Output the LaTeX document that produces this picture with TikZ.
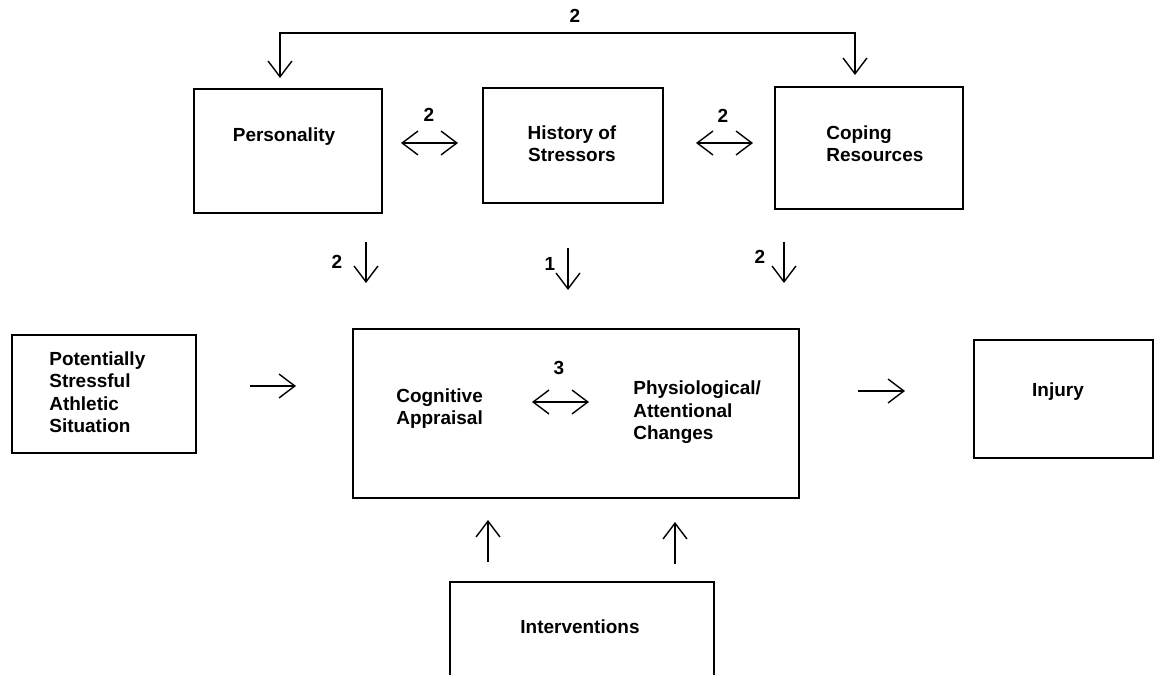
\documentclass[tikz,border=0pt]{standalone}
\usepackage{fontspec}
\setmainfont{Liberation Sans}
\usetikzlibrary{arrows.meta}
\begin{document}
\begin{tikzpicture}[x=0.02cm,y=-0.02cm,
  box/.style={draw, line width=0.9pt, inner sep=0pt, anchor=north west},
  lbl/.style={font=\fontsize{10.8}{12.9}\selectfont\bfseries, inner sep=0pt},
  num/.style={font=\fontsize{10.8}{12.9}\selectfont\bfseries, inner sep=0pt, anchor=base},
  barb/.tip={Straight Barb[length=9pt,width=13.6pt]},
  conn/.style={line width=0.8pt, -barb},
  twoway/.style={line width=0.8pt, barb-barb}]
\useasboundingbox (0,0) rectangle (1154,675);
\clip (0,0) rectangle (1154,675);

% boxes
\node[box, minimum width={188*0.02cm}, minimum height={124*0.02cm}] (pers) at (193,88) {};
\node[box, minimum width={180*0.02cm}, minimum height={115*0.02cm}] (hist) at (482,87) {};
\node[box, minimum width={188*0.02cm}, minimum height={122*0.02cm}] (cope) at (774,86) {};
\node[box, minimum width={184*0.02cm}, minimum height={118*0.02cm}] (sit) at (11,334) {};
\node[box, minimum width={446*0.02cm}, minimum height={169*0.02cm}] (core) at (352,328) {};
\node[box, minimum width={179*0.02cm}, minimum height={118*0.02cm}] (inj) at (973,339) {};
\node[box, minimum width={264*0.02cm}, minimum height={140*0.02cm}] (intv) at (449,581) {};

% box texts (multi-line texts sit on the baseline of their last line)
\node[lbl, anchor=base] (persT) at (284,142) {Personality};
\node[lbl, anchor=base, align=center] (histT) at (572,162) {History of\\Stressors};
\node[lbl, anchor=base west, align=left] (copeT) at (826,162) {Coping\\Resources};
\node[lbl, anchor=base west, align=left] (sitT) at (49,433) {Potentially\\Stressful\\Athletic\\Situation};
\node[lbl, anchor=base west, align=left] (cogT) at (396,425) {Cognitive\\Appraisal};
\node[lbl, anchor=base west, align=left] (physT) at (633,440) {Physiological/\\Attentional\\Changes};
\node[lbl, anchor=base] (injT) at (1058,397) {Injury};
\node[lbl, anchor=base] (intvT) at (580,634) {Interventions};

% arrow end points
\coordinate (pIn) at (280,78);
\coordinate (tl) at (280,33);
\coordinate (tr) at (855,33);
\coordinate (cIn) at (855,75);
\coordinate (ph1) at (401,143);
\coordinate (ph2) at (458,143);
\coordinate (hc1) at (696,143);
\coordinate (hc2) at (753,143);
\coordinate (d1a) at (366,242);
\coordinate (d1b) at (366,283);
\coordinate (d2a) at (568,248);
\coordinate (d2b) at (568,290);
\coordinate (d3a) at (784,242);
\coordinate (d3b) at (784,283);
\coordinate (r1a) at (250,386);
\coordinate (r1b) at (296,386);
\coordinate (r2a) at (858,391);
\coordinate (r2b) at (905,391);
\coordinate (ca) at (532,402);
\coordinate (cb) at (589,402);
\coordinate (u1a) at (488,562);
\coordinate (u1b) at (488,520);
\coordinate (u2a) at (675,564);
\coordinate (u2b) at (675,522);

% connectors
\draw[twoway] (pIn) -- (tl) -- (tr) -- (cIn);
\draw[twoway] (ph1) -- (ph2);
\draw[twoway] (hc1) -- (hc2);
\draw[conn] (d1a) -- (d1b);
\draw[conn] (d2a) -- (d2b);
\draw[conn] (d3a) -- (d3b);
\draw[conn] (r1a) -- (r1b);
\draw[conn] (r2a) -- (r2b);
\draw[twoway] (ca) -- (cb);
\draw[conn] (u1a) -- (u1b);
\draw[conn] (u2a) -- (u2b);

% path labels
\node[num] (nTop) at (575,23) {2};
\node[num] (nPH) at (429,122) {2};
\node[num] (nHC) at (723,123) {2};
\node[num] (nD1) at (337,269) {2};
\node[num] (nD2) at (550,271) {1};
\node[num] (nD3) at (760,264) {2};
\node[num] (nC) at (559,375) {3};
\end{tikzpicture}
\end{document}
